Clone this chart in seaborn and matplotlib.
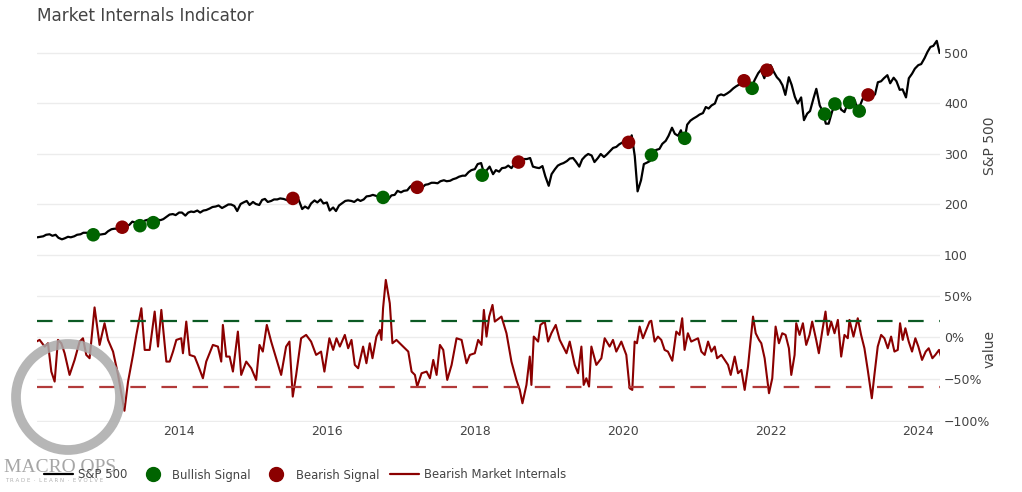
import numpy as np
import pandas as pd
import matplotlib
matplotlib.use('Agg')
import matplotlib.pyplot as plt
import matplotlib.dates as mdates
from matplotlib.lines import Line2D
from matplotlib.patches import Ellipse
from matplotlib.ticker import FuncFormatter
import seaborn as sns

# S&P 500 (SPY), 1st and 15th of each month, Feb 2012 - Apr 2024
spx_start, spx_end = '2012-02-01', '2024-04-15'
spx_close = [
    135, 136, 137, 140, 141, 138, 140, 134, 131, 133, 136, 135, 137, 140, 141, 144, 144, 143, 141, 137, 140, 141,
    142, 147, 151, 152, 152, 156, 156, 156, 160, 166, 164, 160, 161, 168, 170, 166, 164, 170, 169, 171, 176, 180, 181, 179,
    184, 184, 178, 184, 186, 185, 188, 184, 188, 189, 192, 195, 196, 198, 193, 196, 200, 200, 197, 187, 201, 204, 207, 199,
    205, 201, 199, 209, 211, 205, 207, 210, 210, 212, 211, 209, 206, 211, 210, 209, 191, 196, 192, 202, 208, 204, 210, 202,
    204, 188, 194, 187, 198, 202, 207, 208, 207, 205, 210, 207, 210, 216, 217, 219, 217, 214, 216, 213, 211, 218, 219, 227,
    224, 227, 228, 235, 239, 239, 236, 233, 239, 240, 243, 243, 242, 246, 248, 246, 247, 250, 252, 255, 257, 257, 264, 268,
    270, 280, 282, 262, 268, 275, 260, 268, 265, 272, 273, 277, 272, 280, 281, 284, 290, 290, 292, 275, 273, 272, 276, 256,
    237, 260, 270, 277, 280, 282, 286, 291, 292, 285, 275, 289, 296, 300, 297, 284, 292, 300, 294, 299, 306, 312, 314, 319,
    323, 329, 321, 337, 296, 226, 248, 280, 283, 286, 305, 308, 310, 320, 326, 336, 352, 340, 336, 347, 326, 358, 366, 370,
    374, 378, 381, 393, 390, 396, 400, 415, 418, 416, 420, 424, 430, 434, 438, 445, 452, 445, 434, 447, 460, 467, 450, 466,
    476, 464, 452, 446, 436, 417, 452, 437, 413, 400, 412, 367, 380, 385, 410, 429, 396, 385, 360, 360, 384, 398, 407, 388,
    383, 398, 410, 411, 396, 392, 409, 413, 415, 413, 418, 442, 444, 450, 456, 440, 451, 444, 427, 428, 412, 450, 459, 469,
    476, 478, 490, 502, 512, 514, 524, 500,
]

# signal markers (decimal year, price)
bull_year = [2012.84, 2013.47, 2013.65, 2016.76, 2018.10, 2020.39, 2020.84, 2021.75, 2022.73, 2022.87, 2023.07, 2023.20]
bull_price = [140, 158, 164, 214, 258, 298, 331, 430, 379, 399, 402, 385]
bear_year = [2013.23, 2015.54, 2017.22, 2018.59, 2020.08, 2021.64, 2021.95, 2023.32]
bear_price = [155, 212, 234, 284, 323, 445, 466, 417]

# bearish market internals indicator (decimal year, %)
ind_year = [
    2012.07, 2012.115, 2012.183, 2012.228, 2012.273, 2012.318, 2012.363, 2012.408, 2012.453, 2012.52,
    2012.588, 2012.656, 2012.701, 2012.746, 2012.791, 2012.858, 2012.926, 2012.993, 2013.038, 2013.106,
    2013.174, 2013.26, 2013.309, 2013.376, 2013.421, 2013.489, 2013.534, 2013.601, 2013.669, 2013.714,
    2013.759, 2013.827, 2013.872, 2013.917, 2013.962, 2014.029, 2014.052, 2014.097, 2014.142, 2014.21,
    2014.255, 2014.322, 2014.367, 2014.457, 2014.525, 2014.57, 2014.592, 2014.638, 2014.683, 2014.728,
    2014.795, 2014.84, 2014.908, 2014.976, 2015.043, 2015.088, 2015.133, 2015.187, 2015.246, 2015.313,
    2015.381, 2015.448, 2015.493, 2015.538, 2015.584, 2015.651, 2015.719, 2015.786, 2015.854, 2015.921,
    2015.966, 2016.034, 2016.085, 2016.13, 2016.175, 2016.243, 2016.288, 2016.333, 2016.378, 2016.423,
    2016.49, 2016.535, 2016.58, 2016.617, 2016.67, 2016.716, 2016.738, 2016.76, 2016.797, 2016.851,
    2016.887, 2016.941, 2016.986, 2017.054, 2017.099, 2017.144, 2017.189, 2017.22, 2017.279, 2017.347,
    2017.392, 2017.437, 2017.482, 2017.527, 2017.572, 2017.626, 2017.685, 2017.752, 2017.82, 2017.887,
    2017.932, 2017.999, 2018.045, 2018.09, 2018.122, 2018.158, 2018.194, 2018.239, 2018.27, 2018.36,
    2018.428, 2018.495, 2018.562, 2018.608, 2018.644, 2018.698, 2018.743, 2018.765, 2018.797, 2018.856,
    2018.887, 2018.946, 2018.991, 2019.036, 2019.095, 2019.149, 2019.194, 2019.24, 2019.284, 2019.352,
    2019.397, 2019.442, 2019.473, 2019.509, 2019.545, 2019.577, 2019.644, 2019.712, 2019.757, 2019.824,
    2019.869, 2019.914, 2019.982, 2020.05, 2020.095, 2020.131, 2020.163, 2020.194, 2020.23, 2020.275,
    2020.32, 2020.365, 2020.388, 2020.433, 2020.478, 2020.523, 2020.568, 2020.613, 2020.672, 2020.726,
    2020.77, 2020.806, 2020.838, 2020.883, 2020.928, 2020.973, 2021.018, 2021.063, 2021.108, 2021.154,
    2021.199, 2021.244, 2021.276, 2021.334, 2021.379, 2021.424, 2021.46, 2021.514, 2021.559, 2021.604,
    2021.649, 2021.694, 2021.762, 2021.798, 2021.843, 2021.874, 2021.919, 2021.978, 2022.023, 2022.068,
    2022.113, 2022.158, 2022.203, 2022.248, 2022.28, 2022.325, 2022.347, 2022.392, 2022.437, 2022.482,
    2022.527, 2022.563, 2022.617, 2022.653, 2022.698, 2022.743, 2022.775, 2022.82, 2022.865, 2022.91,
    2022.955, 2023.0, 2023.045, 2023.068, 2023.122, 2023.18, 2023.225, 2023.27, 2023.315, 2023.347,
    2023.37, 2023.405, 2023.45, 2023.496, 2023.54, 2023.586, 2023.631, 2023.676, 2023.721, 2023.752,
    2023.788, 2023.824, 2023.869, 2023.914, 2023.959, 2024.0, 2024.05, 2024.1, 2024.14, 2024.19,
    2024.23, 2024.28, 2024.32,
]
ind_value = [
    -5, -3, -11, -7, -41, -53, -3, -7, -19, -45,
    -27, -5, -1, -21, -25, 36, -9, 17, -3, -17,
    -45, -88, -53, -21, 3, 35, -15, -15, 31, -11,
    33, -29, -29, -17, -3, -1, -19, 19, -21, -23,
    -33, -49, -29, -9, -11, -29, 15, -23, -23, -41,
    7, -45, -29, -37, -51, -9, -17, 15, -5, -25,
    -45, -11, -5, -71, -45, -1, 3, -5, -21, -17,
    -41, -1, -15, -1, -11, 3, -13, -3, -33, -37,
    -11, -31, -7, -25, 1, 9, -3, 35, 69, 41,
    -7, -3, -7, -13, -17, -41, -45, -59, -43, -41,
    -49, -27, -45, -9, -15, -51, -33, -1, -3, -31,
    -21, -19, -3, -9, 33, 1, 25, 39, 19, 25,
    5, -29, -51, -63, -79, -57, -23, -57, 1, -5,
    15, 19, -5, 5, 15, -3, -11, -19, -5, -33,
    -43, -11, -57, -49, -59, -11, -33, -25, -1, -11,
    -3, -17, -5, -21, -61, -63, -5, -7, 13, -1,
    9, 19, 20, -5, 1, -3, -15, -17, -28, 7,
    3, 23, -15, 5, -5, -3, -1, -17, -21, -5,
    -17, -11, -25, -21, -27, -33, -45, -23, -43, -39,
    -63, -35, 25, 5, -3, -7, -25, -67, -49, 13,
    -7, 5, 3, -13, -45, -21, 17, 3, 17, -9,
    3, 19, -3, -19, 7, 31, 3, 19, 5, 21,
    -23, 3, -1, 21, 1, 23, 3, -13, -39, -59,
    -73, -45, -11, 3, -1, -13, 1, -17, -15, 17,
    -3, 11, -5, -17, -1, -11, -27, -17, -13, -25,
    -21, -15, -27,
]
bull_level = 20
bear_level = -60


def year_to_date(years):
    years = np.asarray(years, dtype=float)
    whole = np.floor(years).astype(int)
    start = pd.to_datetime([f'{y}-01-01' for y in whole])
    return start + pd.to_timedelta((years - whole) * 365.25, unit='D')


spx = pd.DataFrame({'date': pd.date_range(spx_start, spx_end, freq='SMS'), 'close': spx_close})
bull = pd.DataFrame({'date': year_to_date(bull_year), 'close': bull_price})
bear = pd.DataFrame({'date': year_to_date(bear_year), 'close': bear_price})
ind = pd.DataFrame({'date': year_to_date(ind_year), 'value': ind_value})

sns.set_theme(style='white')
plt.rcParams['font.family'] = ['DejaVu Sans']
txt = '#444444'
green, red = '#006400', '#8b0000'

fig = plt.figure(figsize=(10.22, 4.92), dpi=100)
L, W = 37 / 1022, 903 / 1022
ax1 = fig.add_axes([L, 1 - 262 / 492, W, 232 / 492])
ax2 = fig.add_axes([L, 1 - 422 / 492, W, 146 / 492], sharex=ax1)

sns.lineplot(data=spx, x='date', y='close', ax=ax1, color='black', lw=1.6)
sns.scatterplot(data=bull, x='date', y='close', ax=ax1, color=green, s=95, edgecolor='none', zorder=3)
sns.scatterplot(data=bear, x='date', y='close', ax=ax1, color=red, s=95, edgecolor='none', zorder=3)
ax1.set_ylim(86.1, 545.5)
ax1.set_yticks([100, 200, 300, 400, 500])

sns.lineplot(data=ind, x='date', y='value', ax=ax2, color=red, lw=1.5)
ax2.axhline(bull_level, color='#0b5a24', lw=1.6, linestyle=(0, (7, 7)), zorder=3)
ax2.axhline(bear_level, color='#b23a3a', lw=1.6, linestyle=(0, (7, 7)), zorder=3)
ax2.set_ylim(-101.5, 73.7)
ax2.set_yticks([-100, -50, 0, 50])
ax2.yaxis.set_major_formatter(FuncFormatter(lambda v, p: f'{v:.0f}%'.replace('-', '\u2212')))

ax2.set_xlim(pd.Timestamp('2012-01-30'), pd.Timestamp('2024-04-17'))
ax2.xaxis.set_major_locator(mdates.YearLocator(2))
ax2.xaxis.set_major_formatter(mdates.DateFormatter('%Y'))

for ax, label in [(ax1, 'S&P 500'), (ax2, 'value')]:
    for s in ax.spines.values():
        s.set_visible(False)
    ax.grid(axis='y', color='#ececec', lw=1)
    ax.grid(axis='x', visible=False)
    ax.set_axisbelow(True)
    ax.yaxis.tick_right()
    ax.tick_params(length=0, labelsize=9, labelcolor=txt, pad=3)
    ax.set_xlabel('')
    ax.set_ylabel(label, fontsize=10, color=txt)
    ax.yaxis.set_label_position('right')
    ax.yaxis.set_label_coords(1.0476, 0.5)
ax1.tick_params(axis='x', labelbottom=False)
ax2.tick_params(axis='x', pad=2)

fig.text(L, 1 - 16 / 492, 'Market Internals Indicator', fontsize=12.2, color=txt, va='center')

handles = [
    Line2D([], [], color='black', lw=1.6),
    Line2D([], [], color=green, marker='o', linestyle='none', markersize=10),
    Line2D([], [], color=red, marker='o', linestyle='none', markersize=10),
    Line2D([], [], color=red, lw=1.6),
]
fig.legend(handles, ['S&P 500', 'Bullish Signal', 'Bearish Signal', 'Bearish Market Internals'],
           loc='center left', bbox_to_anchor=(44 / 1022, 1 - 475 / 492), ncol=4, frameon=False,
           fontsize=8.4, labelcolor=txt, handlelength=2.5, handletextpad=0.43,
           columnspacing=0.9, borderpad=0, borderaxespad=0)

# watermark
wm = fig.add_axes([0, 0, 1, 1])
wm.set_xlim(0, 1022)
wm.set_ylim(492, 0)
wm.axis('off')
wm.add_patch(Ellipse((68, 397), 104, 106, fill=False, lw=7, ec='#a9a9a9', alpha=0.85))
wm.text(4, 467, 'MACRO OPS', family=['Liberation Serif', 'DejaVu Serif'], fontsize=14,
        color='#9c9c9c', va='center', alpha=0.9)
wm.text(5, 480, 'T R A D E  ·  L E A R N  ·  E V O L V E', fontsize=4, color='#b0b0b0', va='center')

fig.savefig('out.png', dpi=100)
